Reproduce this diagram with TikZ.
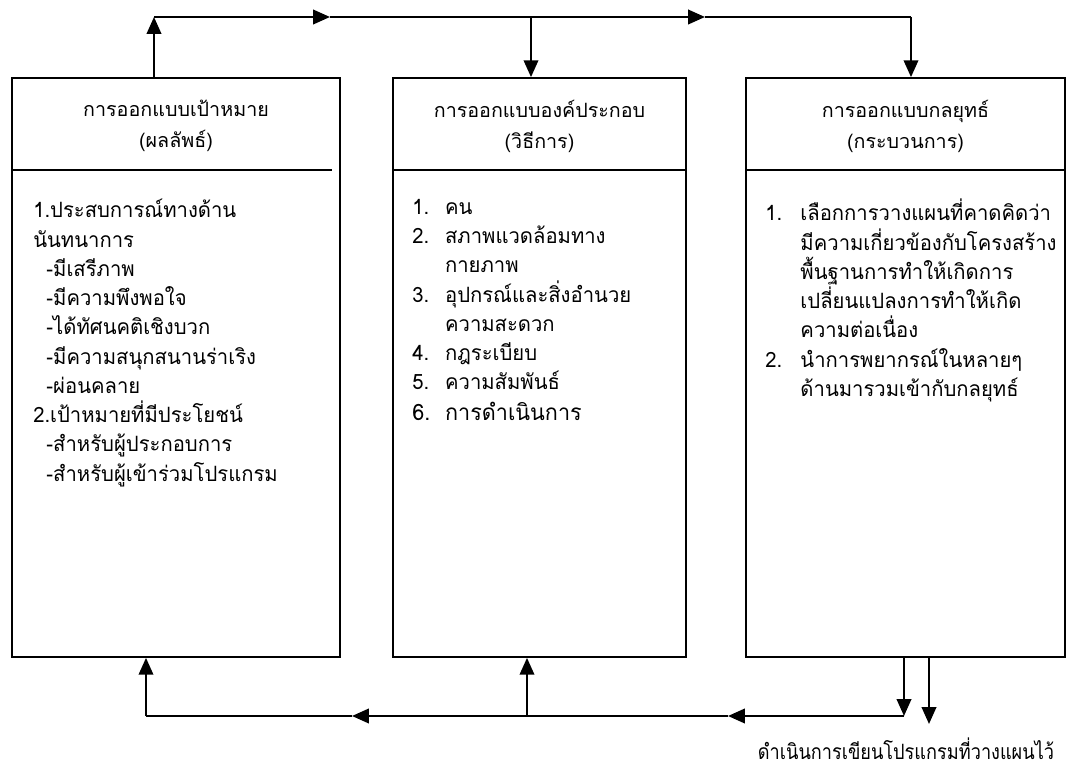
\documentclass[tikz,border=0pt]{standalone}
\usepackage{fontspec}
\usetikzlibrary{arrows.meta}
\newfontfamily\thaifont[Script=Thai]{Loma}
\newfontfamily\thaibody[Script=Thai,FakeStretch=0.96]{Loma}
\newfontfamily\thainarrow[Script=Thai,FakeStretch=0.86]{Loma}

\begin{document}
\begin{tikzpicture}[x=0.025cm,y=-0.025cm,>={Triangle[length=0.42cm,width=0.36cm]}]
  \tikzstyle{box}=[draw,line width=1.1pt,inner sep=0pt]
  \tikzstyle{arr}=[->,line width=1.6pt]
  \tikzstyle{head}=[align=center,font=\thaifont\fontsize{14}{22}\selectfont]
  \tikzstyle{body}=[anchor=north west,inner sep=0pt,align=left,font=\thaibody\fontsize{15}{20.8}\selectfont]
  \useasboundingbox (0,0) rectangle (1068,767);

  \node[box,minimum width=8.2cm,minimum height=14.475cm] (goal) at (176,367.5) {};
  \node[box,minimum width=7.325cm,minimum height=14.475cm] (means) at (539.5,367.5) {};
  \node[box,minimum width=7.975cm,minimum height=14.475cm] (strat) at (905.5,367.5) {};

  \node[head] (goalhead) at (176,126) {การออกแบบเป้าหมาย\\(ผลลัพธ์)};
  \node[head] (meanshead) at (539.5,126) {การออกแบบองค์ประกอบ\\(วิธีการ)};
  \node[head] (strathead) at (905.5,126) {การออกแบบกลยุทธ์\\(กระบวนการ)};

  \draw[line width=1.1pt] (goal.west |- 0,170) -- (332,170);
  \draw[line width=1.1pt] (means.west |- 0,170) -- (means.east |- 0,170);
  \draw[line width=1.1pt] (strat.west |- 0,170) -- (strat.east |- 0,170);

  \node[body] (goalbody) at (33,199) {1.ประสบการณ์ทางด้าน\\
    นันทนาการ\\
    \hspace*{0.33cm}-มีเสรีภาพ\\
    \hspace*{0.33cm}-มีความพึงพอใจ\\
    \hspace*{0.33cm}-ได้ทัศนคติเชิงบวก\\
    \hspace*{0.33cm}-มีความสนุกสนานร่าเริง\\
    \hspace*{0.33cm}-ผ่อนคลาย\\
    2.เป้าหมายที่มีประโยชน์\\
    \hspace*{0.33cm}-สำหรับผู้ประกอบการ\\
    \hspace*{0.33cm}-สำหรับผู้เข้าร่วมโปรแกรม};

  \node[body] (meansbody) at (412,199) {\makebox[0.82cm][l]{1.}คน\\
    \makebox[0.82cm][l]{2.}สภาพแวดล้อมทาง\\
    \makebox[0.82cm][l]{}กายภาพ\\
    \makebox[0.82cm][l]{3.}อุปกรณ์และสิ่งอำนวย\\
    \makebox[0.82cm][l]{}ความสะดวก\\
    \makebox[0.82cm][l]{4.}กฎระเบียบ\\
    \makebox[0.82cm][l]{5.}ความสัมพันธ์\\[1pt]
    {\fontsize{16}{20.8}\selectfont\makebox[0.82cm][l]{6.}การดำเนินการ}};

  \node[body] (stratbody) at (765,199) {\makebox[0.88cm][l]{1.}เลือกการวางแผนที่คาดคิดว่า\\
    \makebox[0.88cm][l]{}มีความเกี่ยวข้องกับโครงสร้าง\\
    \makebox[0.88cm][l]{}พื้นฐานการทำให้เกิดการ\\
    \makebox[0.88cm][l]{}เปลี่ยนแปลงการทำให้เกิด\\
    \makebox[0.88cm][l]{}ความต่อเนื่อง\\
    \makebox[0.88cm][l]{2.}นำการพยากรณ์ในหลายๆ\\
    \makebox[0.88cm][l]{}ด้านมารวมเข้ากับกลยุทธ์};

  % top connectors
  \coordinate (tl) at (154,17);
  \coordinate (ta) at (330,17);
  \coordinate (tm) at (531,17);
  \coordinate (tb) at (705,17);
  \coordinate (tr) at (911,17);
  \draw[arr] (tl |- goal.north) -- (tl);
  \draw[arr] (tl) -- (ta);
  \draw[arr] (ta) -- (tb);
  \draw[line width=1.2pt] (tb) -- (tr);
  \draw[arr] (tm) -- (tm |- means.north);
  \draw[arr] (tr) -- (tr |- strat.north);

  % bottom connectors
  \coordinate (bl) at (146,716);
  \coordinate (ba) at (352,716);
  \coordinate (bm) at (527,716);
  \coordinate (bb) at (728,716);
  \coordinate (br) at (904,716);
  \coordinate (bx) at (929,724);
  \draw[arr] (br |- strat.south) -- (br);
  \draw[arr] (br) -- (bb);
  \draw[arr] (bb) -- (ba);
  \draw[line width=1.6pt] (ba) -- (bl);
  \draw[arr] (bl) -- (bl |- goal.south);
  \draw[arr] (bm) -- (bm |- means.south);
  \draw[arr] (bx |- strat.south) -- (bx);

  \node[font=\thainarrow\fontsize{15}{17}\selectfont] (run) at (906,749) {ดำเนินการเขียนโปรแกรมที่วางแผนไว้};
\end{tikzpicture}
\end{document}
